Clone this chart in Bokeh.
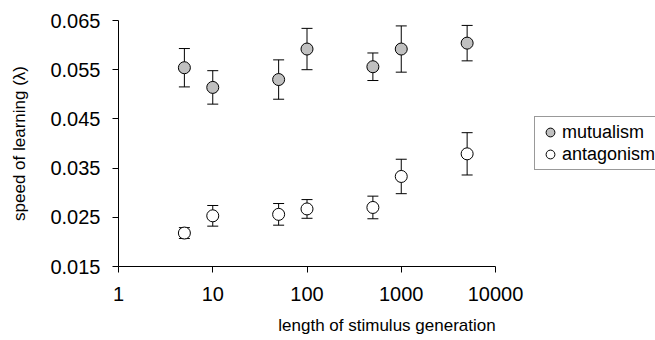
from bokeh.plotting import figure
from bokeh.models import (Range1d, FixedTicker, NumeralTickFormatter, PrintfTickFormatter,
                          Whisker, TeeHead, ColumnDataSource, Legend, LegendItem)
from bokeh.embed import file_html
from bokeh.resources import INLINE

# ---- data ----
gen_length = [5, 10, 50, 100, 500, 1000, 5000]
mutualism_mean = [0.0554, 0.0514, 0.0530, 0.0592, 0.0556, 0.0592, 0.0604]
mutualism_err = [0.0039, 0.0034, 0.0040, 0.0042, 0.0028, 0.0047, 0.0036]
antagonism_mean = [0.0218, 0.0253, 0.0256, 0.0267, 0.0270, 0.0333, 0.0379]
antagonism_err = [0.0011, 0.0021, 0.0022, 0.0019, 0.0023, 0.0035, 0.0043]
x_ticks = [1, 10, 100, 1000, 10000]
y_ticks = [0.015, 0.025, 0.035, 0.045, 0.055, 0.065]
series_names = ["mutualism", "antagonism"]

# ---- layout ----
W, H = 655, 340
LEFT, TOP, BOTTOM = 118, 20, 74
AXIS_PX = 377            # pixel length of the drawn x axis (1 .. 10000)
FRAME_W = W - LEFT
decades = 4 * FRAME_W / AXIS_PX
X_END = 10 ** decades

FONT = "Liberation Sans"

p = figure(width=W, height=H, x_axis_type="log",
           x_range=Range1d(1, X_END), y_range=Range1d(0.015, 0.065),
           output_backend="svg", toolbar_location=None,
           min_border_left=LEFT, min_border_right=0,
           min_border_top=TOP, min_border_bottom=BOTTOM)
p.outline_line_color = None
p.grid.visible = False
p.background_fill_color = "white"
p.border_fill_color = "white"

# axes
xa = p.xaxis[0]
xa.ticker = FixedTicker(ticks=x_ticks, minor_ticks=[])
xa.formatter = NumeralTickFormatter(format="0")
xa.bounds = (x_ticks[0], x_ticks[-1])
xa.axis_label = "length of stimulus generation"
xa.major_label_standoff = 14
xa.axis_label_standoff = 12

ya = p.yaxis[0]
ya.ticker = FixedTicker(ticks=y_ticks, minor_ticks=[])
ya.formatter = PrintfTickFormatter(format="%.3f")
ya.axis_label = "speed of learning (λ)"
ya.major_label_standoff = 12
ya.axis_label_standoff = 18

for ax in (xa, ya):
    ax.axis_line_color = "black"
    ax.axis_line_width = 1
    ax.major_tick_line_color = "black"
    ax.major_tick_out = 6
    ax.major_tick_in = 0
    ax.minor_tick_line_color = None
    ax.major_label_text_font = FONT
    ax.major_label_text_font_size = "20px"
    ax.major_label_text_color = "black"
    ax.axis_label_text_font = FONT
    ax.axis_label_text_font_size = "17px"
    ax.axis_label_text_font_style = "normal"
    ax.axis_label_text_color = "black"

# series
fills = ["#c0c0c0", "white"]
means = [mutualism_mean, antagonism_mean]
errs = [mutualism_err, antagonism_err]
renderers = []
for name, m, e, fc in zip(series_names, means, errs, fills):
    src = ColumnDataSource(dict(
        x=gen_length, y=m,
        upper=[a + b for a, b in zip(m, e)],
        lower=[a - b for a, b in zip(m, e)]))
    w = Whisker(source=src, base="x", upper="upper", lower="lower",
                line_color="black", line_width=1,
                upper_head=TeeHead(size=11, line_color="black", line_width=1),
                lower_head=TeeHead(size=11, line_color="black", line_width=1))
    w.level = "underlay"
    p.add_layout(w)
    r = p.scatter("x", "y", source=src, size=12, marker="circle",
                  fill_color=fc, line_color="black", line_width=1)
    renderers.append(r)

legend = Legend(items=[LegendItem(label=n, renderers=[r]) for n, r in zip(series_names, renderers)],
                location=(416, 96), orientation="vertical",
                glyph_width=22, glyph_height=22, label_height=20,
                spacing=-2, padding=4, margin=0, label_standoff=1,
                label_width=110,
                label_text_font=FONT, label_text_font_size="18px",
                label_text_color="black", label_text_baseline="middle",
                border_line_color="#333333", border_line_width=1,
                background_fill_color="white", background_fill_alpha=1)
p.add_layout(legend)

open("out.html", "w").write(file_html(p, INLINE))
